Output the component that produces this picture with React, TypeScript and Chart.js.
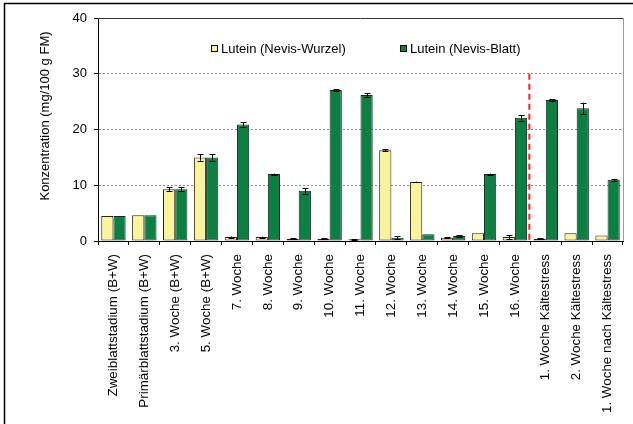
import React, { useEffect, useRef } from "react";
import { Chart, registerables } from "chart.js";

Chart.register(...registerables);

const categories = [
  "Zweiblattstadium (B+W)",
  "Primärblattstadium (B+W)",
  "3. Woche (B+W)",
  "5. Woche (B+W)",
  "7. Woche",
  "8. Woche",
  "9. Woche",
  "10. Woche",
  "11. Woche",
  "12. Woche",
  "13. Woche",
  "14. Woche",
  "15. Woche",
  "16. Woche",
  "1. Woche Kältestress",
  "2. Woche Kältestress",
  "1. Woche nach Kältestress",
];

const wurzelLabel = "Lutein (Nevis-Wurzel)";
const blattLabel = "Lutein (Nevis-Blatt)";

const wurzel = [4.5, 4.6, 9.3, 15.0, 0.7, 0.7, 0.4, 0.4, 0.3, 16.3, 10.6, 0.6, 1.4, 0.7, 0.4, 1.4, 1.0];
const blatt = [4.5, 4.6, 9.3, 15.0, 20.9, 12.0, 9.0, 27.1, 26.2, 0.6, 1.2, 0.9, 12.0, 22.1, 25.3, 23.8, 11.0];

const wurzelErr = [0, 0, 0.3, 0.6, 0.1, 0.1, 0.05, 0.05, 0.05, 0.15, 0.05, 0.05, 0, 0.3, 0.05, 0, 0];
const blattErr = [0, 0, 0.3, 0.6, 0.4, 0.1, 0.5, 0.15, 0.3, 0.3, 0, 0.1, 0.1, 0.5, 0.1, 1.0, 0.15];

const yTicks = [0, 10, 20, 30, 40];
const yTitle = "Konzentration (mg/100 g FM)";

// separator drawn between these two categories, from 0 up to this value
const separatorAfterIndex = 13;
const separatorTopValue = 30;

const YELLOW = "#FAF39C";
const GREEN = "#0B8042";
const FONT = "'Liberation Sans', Arial, sans-serif";

const decorPlugin = {
  id: "decor",
  beforeDraw(chart: any) {
    const ctx = chart.ctx;
    ctx.save();
    ctx.strokeStyle = "#000";
    ctx.lineWidth = 1.5;
    ctx.beginPath();
    ctx.moveTo(4, 3.5);
    ctx.lineTo(633, 3.5);
    ctx.moveTo(4.5, 3);
    ctx.lineTo(4.5, 424);
    ctx.stroke();
    ctx.restore();
  },
  afterDraw(chart: any) {
    const ctx = chart.ctx;
    const { left, right, top, bottom } = chart.chartArea;
    const xs = chart.scales.x;
    const ys = chart.scales.y;
    ctx.save();
    // plot frame top & right
    ctx.lineWidth = 1;
    ctx.strokeStyle = "#333";
    ctx.beginPath();
    ctx.moveTo(left, Math.round(top) + 0.5);
    ctx.lineTo(right, Math.round(top) + 0.5);
    ctx.stroke();
    ctx.strokeStyle = "#9a9a9a";
    ctx.beginPath();
    ctx.moveTo(Math.round(right) + 0.5, top);
    ctx.lineTo(Math.round(right) + 0.5, bottom);
    ctx.stroke();

    // error bars
    const errs = [wurzelErr, blattErr];
    const vals = [wurzel, blatt];
    ctx.strokeStyle = "#000";
    ctx.lineWidth = 1;
    chart.data.datasets.forEach((_: any, di: number) => {
      const meta = chart.getDatasetMeta(di);
      meta.data.forEach((bar: any, i: number) => {
        const e = errs[di][i];
        if (!e) return;
        const v = vals[di][i];
        const x = Math.round(bar.x) + 0.5;
        const y1 = ys.getPixelForValue(v + e);
        const y2 = ys.getPixelForValue(Math.max(0, v - e));
        ctx.beginPath();
        ctx.moveTo(x, y1);
        ctx.lineTo(x, y2);
        ctx.moveTo(x - 3, Math.round(y1) + 0.5);
        ctx.lineTo(x + 3, Math.round(y1) + 0.5);
        ctx.moveTo(x - 3, Math.round(y2) + 0.5);
        ctx.lineTo(x + 3, Math.round(y2) + 0.5);
        ctx.stroke();
      });
    });

    // red dashed separator
    const sx =
      (xs.getPixelForValue(separatorAfterIndex) + xs.getPixelForValue(separatorAfterIndex + 1)) / 2 - 1;
    ctx.strokeStyle = "#E8262B";
    ctx.lineWidth = 2;
    ctx.setLineDash([6, 4]);
    ctx.beginPath();
    ctx.moveTo(sx, ys.getPixelForValue(separatorTopValue));
    ctx.lineTo(sx, ys.getPixelForValue(0));
    ctx.stroke();
    ctx.setLineDash([]);

    // legend
    ctx.font = `13px ${FONT}`;
    ctx.textBaseline = "middle";
    ctx.textAlign = "left";
    const items = [
      { x: 211, label: chart.data.datasets[0].label, color: YELLOW },
      { x: 400, label: chart.data.datasets[1].label, color: GREEN },
    ];
    items.forEach((it) => {
      ctx.fillStyle = it.color;
      ctx.fillRect(it.x + 0.5, 45.5, 6, 6);
      ctx.strokeStyle = "#000";
      ctx.lineWidth = 1;
      ctx.strokeRect(it.x + 0.5, 45.5, 6, 6);
      ctx.fillStyle = "#000";
      ctx.fillText(it.label, it.x + 10, 49);
    });

    // y title
    ctx.save();
    ctx.translate(45, 116);
    ctx.rotate(-Math.PI / 2);
    ctx.textAlign = "center";
    ctx.textBaseline = "middle";
    ctx.font = `13px ${FONT}`;
    ctx.fillStyle = "#000";
    ctx.fillText(yTitle, 0, 0);
    ctx.restore();

    ctx.restore();
  },
};

export default function App() {
  const ref = useRef<HTMLCanvasElement>(null);
  useEffect(() => {
    if (!ref.current) return;
    const chart = new Chart(ref.current, {
      type: "bar",
      data: {
        labels: categories,
        datasets: [
          {
            label: wurzelLabel,
            data: wurzel,
            backgroundColor: YELLOW,
            borderColor: "#222",
            borderWidth: 1,
            borderSkipped: false,
            categoryPercentage: 0.79,
            barPercentage: 1,
          },
          {
            label: blattLabel,
            data: blatt,
            backgroundColor: GREEN,
            borderColor: "#222",
            borderWidth: 1,
            borderSkipped: false,
            categoryPercentage: 0.79,
            barPercentage: 1,
          },
        ],
      },
      options: {
        animation: false,
        responsive: false,
        devicePixelRatio: 1,
        layout: { padding: { left: 0, top: 18, right: 10, bottom: 0 } },
        plugins: { legend: { display: false }, tooltip: { enabled: false } },
        scales: {
          x: {
            type: "category",
            offset: true,
            grid: {
              offset: true,
              drawOnChartArea: false,
              drawTicks: true,
              tickLength: 4,
              tickColor: "#000",
            },
            border: { display: true, color: "#000", width: 1 },
            ticks: {
              minRotation: 90,
              maxRotation: 90,
              autoSkip: false,
              color: "#000",
              padding: 9,
              font: { family: FONT, size: 13.4 },
            },
            afterFit: (scale: any) => {
              scale.height = 424 - 241;
            },
          },
          y: {
            min: 0,
            max: 40,
            afterBuildTicks: (scale: any) => {
              scale.ticks = yTicks.map((v) => ({ value: v }));
            },
            grid: {
              color: (c: any) =>
                c.tick && c.tick.value > 0 && c.tick.value < 40 ? "#8a8a8a" : "rgba(0,0,0,0)",
              drawTicks: true,
              tickLength: 4,
              tickColor: "#000",
              tickBorderDash: [],
            },
            border: { display: true, color: "#000", width: 1, dash: [2, 2] },
            ticks: {
              color: "#000",
              padding: 7,
              font: { family: FONT, size: 13 },
            },
            afterFit: (scale: any) => {
              scale.width = 98;
            },
          },
        },
      },
      plugins: [decorPlugin],
    } as any);
    return () => chart.destroy();
  }, []);
  return (
    <div style={{ position: "fixed", left: 0, top: 0, width: 633, height: 424, background: "#fff" }}>
      <canvas ref={ref} width={633} height={424} style={{ display: "block", width: 633, height: 424 }} />
    </div>
  );
}
